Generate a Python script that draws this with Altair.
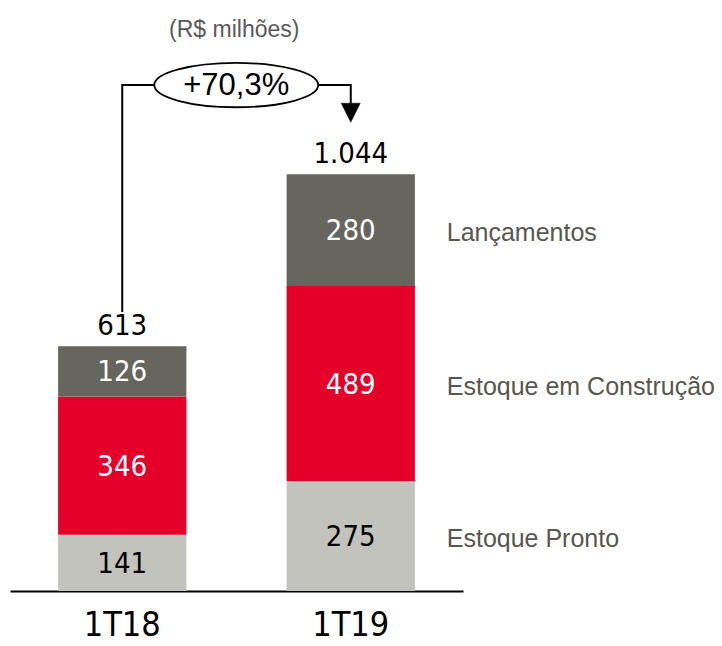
import altair as alt
import pandas as pd

# ---- data ----
categories = ["1T18", "1T19"]
series = ["Estoque Pronto", "Estoque em Construção", "Lançamentos"]
estoque_pronto = [141, 275]
estoque_construcao = [346, 489]
lancamentos = [126, 280]
growth_label = "+70,3%"
unit_label = "(R$ milhões)"

# ---- styles ----
seg_colors = ["#C3C3BE", "#E40028", "#66665E"]
seg_label_colors = ["#000000", "#FFFFFF", "#FFFFFF"]
NUM_FONT = "DejaVu Sans Condensed, DejaVu Sans"
TXT_FONT = "Liberation Sans"

rows = []
for i, c in enumerate(categories):
    base = 0
    for s, vals, lc in zip(series, [estoque_pronto, estoque_construcao, lancamentos], seg_label_colors):
        v = vals[i]
        rows.append(dict(cat=c, serie=s, value=v, y0=base, y1=base + v,
                         mid=base + v / 2, lblcolor=lc))
        base += v
df = pd.DataFrame(rows)

totals = [sum(v[i] for v in [estoque_pronto, estoque_construcao, lancamentos]) for i in range(len(categories))]
tot_df = pd.DataFrame({"cat": categories, "total": totals,
                       "label": [f"{t:,}".replace(",", ".") for t in totals]})

# annotation geometry (data units on the value scale)
conn_bottom = totals[0] + 86
conn_top = 1267
arrow_tip = totals[1] + 130
arrow_h = 47
conn_df = pd.DataFrame({
    "o": [0, 1, 2, 3],
    "cat": [categories[0], categories[0], categories[1], categories[1]],
    "y": [conn_bottom, conn_top, conn_top, arrow_tip + arrow_h],
})
arrow_df = pd.DataFrame({"cat": [categories[1]], "y": [arrow_tip]})
ell_df = pd.DataFrame({"cat": [categories[0]], "y": [conn_top], "t": [growth_label]})
title_df = pd.DataFrame({"cat": [categories[0]], "y": [1405], "t": [unit_label]})

X = alt.X("cat:N", sort=categories,
          scale=alt.Scale(domain=categories, paddingInner=0.4386, paddingOuter=0.2105),
          axis=alt.Axis(title=None, labelAngle=0, domainColor="black", domainWidth=2,
                        ticks=False, tickSize=0, labelFontSize=34, labelFont=NUM_FONT,
                        labelColor="black", labelPadding=17, grid=False))
YS = alt.Scale(domain=[0, 1400], nice=False, zero=True)

bars = alt.Chart(df).mark_bar(stroke=None).encode(
    x=X,
    y=alt.Y("y0:Q", scale=YS, axis=None),
    y2="y1:Q",
    color=alt.Color("serie:N", scale=alt.Scale(domain=series, range=seg_colors), legend=None),
)

seg_labels = alt.Chart(df).mark_text(font=NUM_FONT, fontSize=29, baseline="middle", dy=1).encode(
    x=X,
    y=alt.Y("mid:Q", scale=YS, axis=None),
    text="value:Q",
    color=alt.Color("lblcolor:N", scale=None),
)

tot_labels = alt.Chart(tot_df).mark_text(font=NUM_FONT, fontSize=29, baseline="alphabetic",
                                         dy=-11, color="black").encode(
    x=X,
    y=alt.Y("total:Q", scale=YS, axis=None),
    text="label:N",
)

legend_labels = alt.Chart(df[df["cat"] == categories[1]]).mark_text(
    font=TXT_FONT, fontSize=25, align="left", baseline="middle", xOffset=96, dy=3,
    color="#58574F"
).encode(
    x=X,
    y=alt.Y("mid:Q", scale=YS, axis=None),
    text="serie:N",
)

conn = alt.Chart(conn_df).mark_line(color="black", strokeWidth=2).encode(
    x=X,
    y=alt.Y("y:Q", scale=YS, axis=None),
    order="o:Q",
)

arrow = alt.Chart(arrow_df).mark_point(
    shape="M -0.5 -1 L 0.5 -1 L 0 0 Z", size=1444, filled=True, fill="black",
    stroke="black", strokeWidth=0.5, opacity=1
).encode(
    x=X,
    y=alt.Y("y:Q", scale=YS, axis=None),
)

ellipse_path = ("M -1 0 C -1 -0.149 -0.552 -0.27 0 -0.27 C 0.552 -0.27 1 -0.149 1 0 "
                "C 1 0.149 0.552 0.27 0 0.27 C -0.552 0.27 -1 0.149 -1 0 Z")
ellipse = alt.Chart(ell_df).mark_point(
    shape=ellipse_path, size=26896, filled=True, fill="white", stroke="black",
    strokeWidth=1.8, opacity=1, xOffset=114
).encode(
    x=X,
    y=alt.Y("y:Q", scale=YS, axis=None),
)

growth_text = alt.Chart(ell_df).mark_text(
    font=TXT_FONT, fontSize=31, baseline="middle", xOffset=114, dy=1, color="black"
).encode(
    x=X,
    y=alt.Y("y:Q", scale=YS, axis=None),
    text="t:N",
)

title_text = alt.Chart(title_df).mark_text(
    font=TXT_FONT, fontSize=23, baseline="middle", xOffset=112, color="#595959"
).encode(
    x=X,
    y=alt.Y("y:Q", scale=YS, axis=None),
    text="t:N",
)

chart = alt.layer(
    bars, seg_labels, tot_labels, legend_labels, conn, ellipse, growth_text, arrow, title_text
).properties(
    width=453, height=559,
    padding={"left": 2, "top": 24, "right": 251, "bottom": 55},
    autosize=alt.AutoSizeParams(type="none"),
).configure_view(stroke=None)

chart.save("out.html", embed_options={"renderer": "svg", "actions": False})
